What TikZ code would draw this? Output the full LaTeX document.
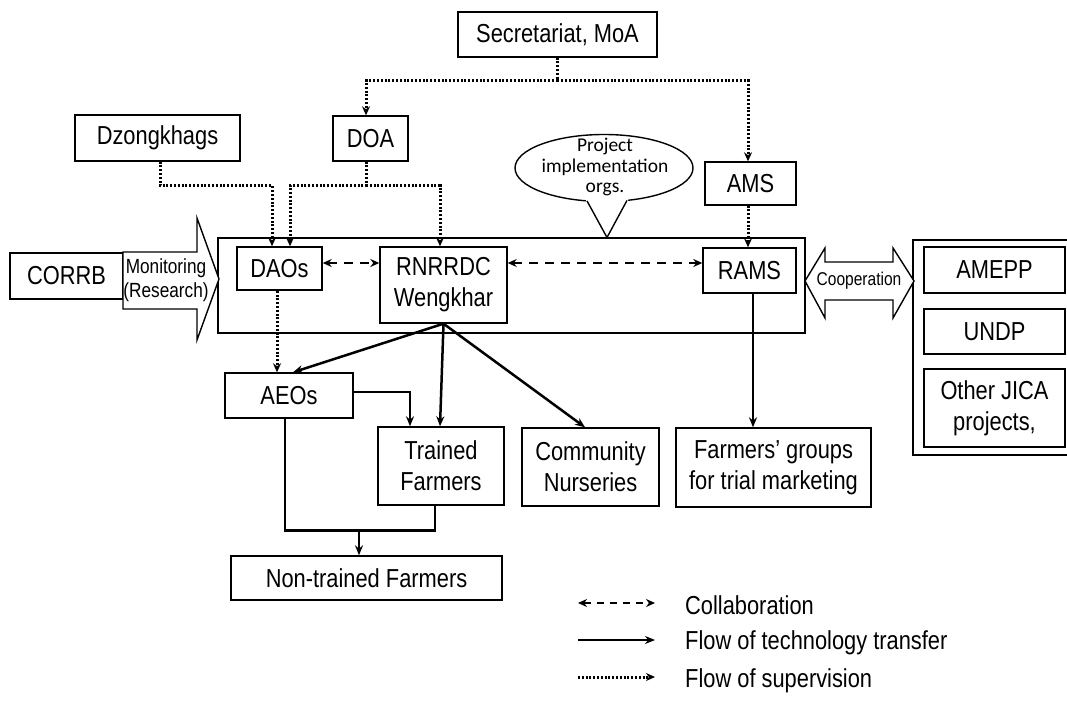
\documentclass[tikz,border=0pt]{standalone}
\usepackage{fontspec}
\setmainfont{Liberation Sans}[FakeStretch=0.84]
\newfontfamily\piofont{Carlito}
\usetikzlibrary{arrows.meta,shapes.geometric,calc}
\begin{document}
\begin{tikzpicture}[x=1pt,y=-1pt,
  box/.style={draw, line width=1.4pt, inner sep=0pt, align=center, font=\fontsize{26}{31}\selectfont},
  sup/.style={line width=3pt, dash pattern=on 2pt off 1.8pt, -{Stealth[length=9pt,width=8pt]}},
  tt/.style={line width=2.5pt, -{Stealth[length=10pt,width=8pt]}},
  ttl/.style={line width=2.5pt},
  col/.style={line width=2.5pt, dash pattern=on 9pt off 7pt, {Stealth[length=9pt,width=8pt]}-{Stealth[length=9pt,width=8pt]}},
  frame/.style={draw, line width=1.4pt, inner sep=0pt},
  legtext/.style={anchor=west, inner sep=0pt, font=\fontsize{26}{31}\selectfont}
]
\useasboundingbox[fill=white] (0,0) rectangle (1067,711);
\clip (0,0) rectangle (1067,711);

% containers
\node[frame, minimum width=587, minimum height=95] (impl) at (511.5,285.5) {};
\node[frame, minimum width=157, minimum height=215] (coopbox) at (991.5,347.5) {};

% top boxes
\node[box, minimum width=199, minimum height=45] (sec) at (557.5,34.5) {Secretariat, MoA};
\node[box, minimum width=165, minimum height=46] (dzong) at (157.5,138) {Dzongkhags};
\node[box, minimum width=75, minimum height=45] (doa) at (370.5,138.5) {DOA};
\node[box, minimum width=91, minimum height=43] (ams) at (750.5,183.5) {AMS};

% project implementation callout
\node[draw, line width=1.4pt, ellipse, minimum width=178, minimum height=67, inner sep=0pt] (pio) at (604,168) {};
\fill[white] (586,196) -- (628,196) -- (628,200.6) -- (607,237) -- (586,201) -- cycle;
\draw[line width=1.4pt] (587,200.9) -- (607,237.5) -- (627,200.4);
\node[inner sep=0pt, align=center, font=\piofont\fontsize{19.5}{20.5}\selectfont] (piotext) at (605,167) {Project\\implementation\\orgs.};

% inner boxes
\node[box, minimum width=85, minimum height=43] (daos) at (279.5,268.5) {DAOs};
\node[box, minimum width=127, minimum height=76] (rnr) at (443.5,285) {RNRRDC\\Wengkhar};
\node[box, minimum width=93, minimum height=45] (rams) at (749.5,270.5) {RAMS};

% CORRB and monitoring arrow
\node[box, minimum width=113, minimum height=46] (corrb) at (66.5,276) {CORRB};
\draw[line width=1.4pt, fill=white] (123,252) -- (197,252) -- (197,218) -- (219,279) -- (197,340) -- (197,309) -- (123,309) -- cycle;
\node[inner sep=0pt, align=center, font=\fontsize{20.5}{24}\selectfont] (mon) at (166,280) {Monitoring\\(Research)};

% cooperation arrow
\draw[line width=1.4pt, fill=white] (805,281) -- (825,248) -- (825,262) -- (893,262) -- (893,248) -- (914,281) -- (893,318) -- (893,300) -- (825,300) -- (825,318) -- cycle;
\node[inner sep=0pt, font=\fontsize{18.5}{20}\selectfont] (coop) at (859,281) {Cooperation};

% right boxes
\node[box, minimum width=141, minimum height=46] (amepp) at (994.5,270) {AMEPP};
\node[box, minimum width=141, minimum height=45] (undp) at (994.5,331.5) {UNDP};
\node[box, minimum width=141, minimum height=78] (jica) at (994.5,408) {Other JICA\\projects,};

% lower boxes
\node[box, minimum width=128, minimum height=45] (aeos) at (289,395.5) {AEOs};
\node[box, minimum width=126, minimum height=78] (tf) at (441,466) {Trained\\Farmers};
\node[box, minimum width=137, minimum height=78] (cn) at (590.5,467) {Community\\Nurseries};
\node[box, minimum width=195, minimum height=79] (fg) at (773.5,467.5) {Farmers' groups\\for trial marketing};
\node[box, minimum width=271, minimum height=44] (ntf) at (366.5,578) {Non-trained Farmers};

% supervision
\draw[sup] (sec.south) -- ++(0,23) coordinate (sj) -| ([xshift=-2.5pt]ams.north);
\draw[sup] (sj) -| ([xshift=-4.5pt]doa.north);
\draw[sup] ([xshift=2.5pt]dzong.south) -- ++(0,24) -| ([xshift=-7.5pt]daos.north);
\draw[sup] ([xshift=-4.5pt]doa.south) -- ++(0,24) coordinate (dj) -| ([xshift=10.5pt]daos.north);
\draw[sup] (dj) -| ([xshift=-3.5pt]rnr.north);
\draw[sup] ([xshift=-2.5pt]ams.south) -- ([xshift=-2.5pt]ams.south |- rams.north);
\draw[sup] ([xshift=-2.5pt]daos.south) -- ([xshift=-2.5pt]daos.south |- aeos.north);

% collaboration
\draw[col] ([yshift=5.5pt]daos.east) -- ([yshift=5.5pt]daos.east -| rnr.west);
\draw[col] ([yshift=7.5pt]rams.west -| rnr.east) -- ([yshift=7.5pt]rams.west);

% technology transfer
\draw[tt] (rnr.south) -- ([xshift=4pt]aeos.north);
\draw[tt] (rnr.south) -- ([xshift=-1pt]tf.north);
\draw[tt] (rnr.south) -- ([xshift=-5.5pt]cn.north);
\draw[tt] ([yshift=3.5pt]aeos.east) -| ([xshift=-31pt]tf.north);
\draw[tt] ([xshift=3.5pt]rams.south) -- ([xshift=3.5pt]rams.south |- fg.north);
\draw[ttl] ([xshift=-4pt]aeos.south) -- ++(0,112) -| ([xshift=-6pt]tf.south);
\coordinate (nj) at (359,530);
\draw[tt] (nj) -- (nj |- ntf.north);

% legend
\coordinate (l1a) at (578,603); \coordinate (l1b) at (655,603);
\coordinate (l2a) at (578,640); \coordinate (l2b) at (655,640);
\coordinate (l3a) at (578,677); \coordinate (l3b) at (655,677);
\draw[col, dash pattern=on 7pt off 6pt] (l1a) -- (l1b);
\draw[tt] (l2a) -- (l2b);
\draw[sup] (l3a) -- (l3b);
\node[legtext] (lg1) at (685,605) {Collaboration};
\node[legtext] (lg2) at (685,643) {Flow of technology transfer};
\node[legtext] (lg3) at (685,681) {Flow of supervision};
\end{tikzpicture}
\end{document}
